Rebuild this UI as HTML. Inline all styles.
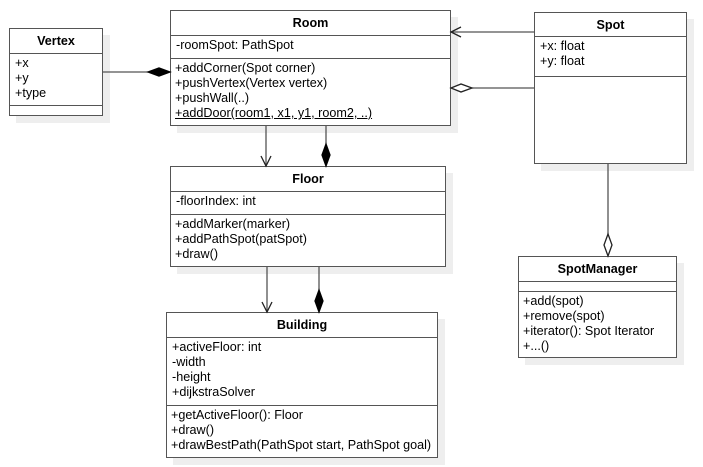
<!DOCTYPE html>
<html><head><style>
body{margin:0;background:#fff;width:703px;height:467px;position:relative;overflow:hidden;font-family:"Liberation Sans",Arial,sans-serif;font-size:12.6px;color:#000}
.b{position:absolute;border:1.5px solid #555;background:#fff;box-shadow:7px 7px 0 #eee;box-sizing:border-box}
.h{font-weight:bold;text-align:center;border-bottom:1.5px solid #555;box-sizing:border-box;padding-top:5px}
.s{border-bottom:1.5px solid #555;box-sizing:border-box;padding:2px 5px;line-height:15px;white-space:nowrap}
.m{padding:2px 4px;line-height:15px;white-space:nowrap}
svg{position:absolute;left:0;top:0}
</style></head><body>
<div class="b" style="left:9px;top:28px;width:94px;height:88px">
<div class="h" style="height:25px">Vertex</div>
<div class="s" style="height:52px">+x<br>+y<br>+type</div></div>
<div class="b" style="left:170px;top:10px;width:281px;height:116px">
<div class="h" style="height:25px">Room</div>
<div class="s" style="height:23px">-roomSpot: PathSpot</div>
<div class="m">+addCorner(Spot corner)<br>+pushVertex(Vertex vertex)<br>+pushWall(..)<br><u>+addDoor(room1, x1, y1, room2, ..)</u></div></div>
<div class="b" style="left:534px;top:12px;width:153px;height:152px">
<div class="h" style="height:24px">Spot</div>
<div class="s" style="height:40px">+x: float<br>+y: float</div></div>
<div class="b" style="left:170px;top:166px;width:276px;height:101px">
<div class="h" style="height:25px">Floor</div>
<div class="s" style="height:23px">-floorIndex: int</div>
<div class="m">+addMarker(marker)<br>+addPathSpot(patSpot)<br>+draw()</div></div>
<div class="b" style="left:166px;top:312px;width:272px;height:146px">
<div class="h" style="height:25px">Building</div>
<div class="s" style="height:68px">+activeFloor: int<br>-width<br>-height<br>+dijkstraSolver</div>
<div class="m">+getActiveFloor(): Floor<br>+draw()<br>+drawBestPath(PathSpot start, PathSpot goal)</div></div>
<div class="b" style="left:518px;top:256px;width:159px;height:102px">
<div class="h" style="height:25px">SpotManager</div>
<div class="s" style="height:10px"></div>
<div class="m">+add(spot)<br>+remove(spot)<br>+iterator(): Spot Iterator<br>+...()</div></div>
<svg width="703" height="467" fill="none" stroke="#555" stroke-width="1.3">
<line x1="103" y1="72" x2="148" y2="72"/>
<polygon points="148,72 159,68 170,72 159,76" fill="#000" stroke="#000"/>
<line x1="534" y1="32" x2="451" y2="32"/>
<polyline points="461,27 451,32 461,37" stroke="#222"/>
<line x1="534" y1="88" x2="472" y2="88"/>
<polygon points="451,88 461,84 472,88 461,92" fill="#fff" stroke="#222"/>
<line x1="266" y1="126" x2="266" y2="166"/>
<polyline points="261,156 266,166 271,156" stroke="#222"/>
<line x1="326" y1="126" x2="326" y2="144"/>
<polygon points="326,144 330,155 326,166 322,155" fill="#000" stroke="#000"/>
<line x1="267" y1="267" x2="267" y2="312"/>
<polyline points="262,302 267,312 272,302" stroke="#222"/>
<line x1="319" y1="267" x2="319" y2="290"/>
<polygon points="319,290 323,301 319,312 315,301" fill="#000" stroke="#000"/>
<line x1="608" y1="164" x2="608" y2="234"/>
<polygon points="608,234 612,245 608,256 604,245" fill="#fff" stroke="#222"/>
</svg>
</body></html>
